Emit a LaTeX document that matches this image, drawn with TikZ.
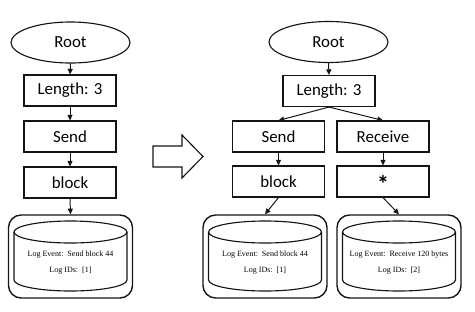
\documentclass[tikz,border=0pt]{standalone}
\usepackage{fontspec}
\setmainfont{Carlito}
\newfontfamily\logfont{Liberation Serif}
\usepackage{tikz}
\usetikzlibrary{shapes.geometric, arrows.meta, positioning}
\definecolor{mydark}{RGB}{20,20,20}
\tikzset{
  rootnode/.style={ellipse, draw=mydark, line width=0.8pt, inner sep=0pt,
    minimum width=2.975cm, minimum height=1.025cm,
    font=\fontsize{12}{14}\selectfont},
  keybox/.style={rectangle, draw=mydark, line width=0.8pt, inner sep=0pt,
    minimum width=2.3cm, minimum height=0.775cm,
    font=\fontsize{12}{14}\selectfont},
  logbox/.style={rectangle, draw=mydark, line width=1pt,
    rounded corners=9pt, minimum width=3.1cm, minimum height=2.075cm},
  logtext/.style={inner sep=0pt, font=\logfont\fontsize{5.7}{7}\selectfont},
  arrow/.style={-{Triangle[length=4pt,width=3.6pt]}, line width=0.7pt, color=mydark},
  drum/.style={line width=0.8pt, color=mydark}
}
% log store: a drum inside the rounded box #1
\newcommand{\logdrum}[3]{%
  \begin{scope}[shift={(#1.center)}]
    \draw[drum] (0,-24.5) ellipse[x radius=56.5, y radius=11];
    \draw[drum] (-56.5,-24.5) -- (-56.5,23.5)
      arc[start angle=180, end angle=0, x radius=56.5, y radius=11]
      -- (56.5,-24.5);
    \node[logtext] (#1-ev) at (0,-1.5) {Log Event:\ \ #2};
    \node[logtext] (#1-id) at (0,14.5) {Log IDs:\ \ [#3]};
  \end{scope}}

\begin{document}
\begin{tikzpicture}[x=0.025cm, y=-0.025cm]
  \useasboundingbox (0,0) rectangle (475,311);

  % Tree before the insert
  \node[rootnode] (root1) at (70.5,42.5) {Root};
  \node[keybox] (len1) at (70,90.5) {Length: 3};
  \node[keybox] (send1) at (70,136.5) {Send};
  \node[keybox] (blk1) at (70,182.5) {block};
  \node[logbox] (log1) at (70.5,256.5) {};
  \logdrum{log1}{Send block 44}{1}

  \draw[arrow] (root1.south) -- (len1.north);
  \draw[arrow] (len1.south) -- (send1.north);
  \draw[arrow] (send1.south) -- (blk1.north);
  \draw[arrow] (blk1.south) -- (log1.north);

  % Hollow arrow between the two trees
  \draw[line width=0.8pt, color=mydark]
    (153,146) -- (182,146) -- (182,135) -- (203,156.5)
    -- (182,178) -- (182,167) -- (153,167) -- cycle;

  % Tree after the insert
  \node[rootnode] (root2) at (328.5,42) {Root};
  \node[keybox] (len2) at (329,91) {Length: 3};
  \node[keybox] (send2) at (278.5,136.5) {Send};
  \node[keybox] (recv2) at (383,136.5) {Receive};
  \node[keybox] (blk2) at (278.5,181.5) {block};
  \node[keybox, font=\fontsize{17}{18}\bfseries] (star2) at (383,181.5)
    {\smash{\raisebox{-0.46em}{*}}};
  \node[logbox] (log2) at (265,256.5) {};
  \node[logbox] (log3) at (399,256.5) {};
  \logdrum{log2}{Send block 44}{1}
  \logdrum{log3}{Receive 120 bytes}{2}

  \draw[arrow] (root2.south) -- (len2.north);
  \draw[arrow] (len2.south) -- (send2.north);
  \draw[arrow] (len2.south) -- (recv2.north);
  \draw[arrow] (send2.south) -- (blk2.north);
  \draw[arrow] (recv2.south) -- (star2.north);
  \draw[arrow] (blk2.south) -- (log2.north);
  \draw[arrow] (star2.south) -- (log3.north);
\end{tikzpicture}
\end{document}
